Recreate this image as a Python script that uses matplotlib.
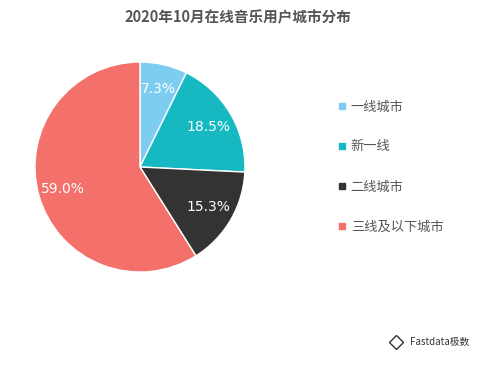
import matplotlib.pyplot as plt
from matplotlib.lines import Line2D

plt.rcParams['font.family'] = ['Noto Sans CJK SC', 'DejaVu Sans']

labels = ['一线城市', '新一线', '二线城市', '三线及以下城市']
values = [7.3, 18.5, 15.3, 59.0]
colors = ['#7dcdf0', '#16b8c2', '#333333', '#f4706a']

fig = plt.figure(figsize=(4.99, 3.66), dpi=100)
ax = fig.add_axes([0.0701, 0.2568, 0.4208, 0.5738])

wedges, texts, autotexts = ax.pie(
    values, colors=colors, startangle=90, counterclock=False,
    autopct='%.1f%%', pctdistance=0.76,
    wedgeprops=dict(edgecolor='white', linewidth=1),
    textprops=dict(color='white', fontsize=10, family=['DejaVu Sans']),
)
# keep the published percentages (they add up to 100.1)
for t, v in zip(autotexts, values):
    t.set_text(f'{v:.1f}%')
ax.set_aspect('equal')
ax.set_xlim(-1.0, 1.0)
ax.set_ylim(-1.0, 1.0)

fig.text(0.476, 0.952, '2020年10月在线音乐用户城市分布', ha='center', va='center',
         fontsize=10.5, fontweight='bold', color='#555555')

handles = [Line2D([0], [0], marker='s', ls='', color=c, markersize=5) for c in colors]
fig.legend(handles, labels, loc='upper left', bbox_to_anchor=(0.65, 0.758),
           frameon=False, fontsize=9.5, labelcolor='#555555',
           labelspacing=2.05, handletextpad=0.3, handlelength=0.8)

fig.text(0.822, 0.065, 'Fastdata极数', ha='left', va='center', fontsize=7, color='#333333')
fig.add_artist(Line2D([0.793], [0.066], marker='D', markersize=7, mfc='white',
                      mec='#333333', mew=1, transform=fig.transFigure))

fig.savefig('out.png', dpi=100)
